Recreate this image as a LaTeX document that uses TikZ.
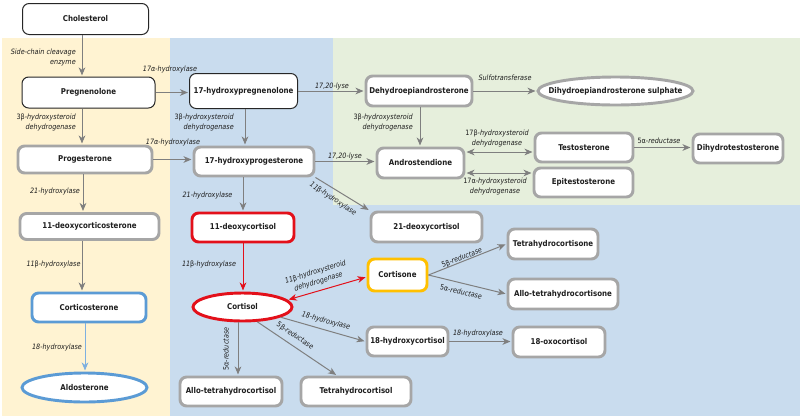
\documentclass[tikz,border=0pt]{standalone}
\usepackage{fontspec}
\setmainfont{DejaVu Sans}[FakeStretch=0.88]
\usetikzlibrary{arrows.meta,shapes.geometric,calc}
\definecolor{bgY}{HTML}{FFF3D2}
\definecolor{bgB}{HTML}{C9DCEE}
\definecolor{bgG}{HTML}{E6EFDC}
\definecolor{nodegray}{HTML}{A6A6A6}
\definecolor{linegray}{HTML}{7F7F7F}
\definecolor{redc}{HTML}{E3101A}
\definecolor{orc}{HTML}{FFC000}
\definecolor{bluec}{HTML}{5B9BD5}
\definecolor{bluel}{HTML}{7EB0E0}
\definecolor{txt}{HTML}{1E1E1E}
\newcommand{\gr}[1]{{\upshape #1}}
\begin{document}
\begin{tikzpicture}[x=0.75pt,y=-0.75pt,
  sz/.style 2 args={minimum width=#1*0.75pt, minimum height=#2*0.75pt},
  base/.style={fill=white, text=txt, font=\fontsize{6}{7}\selectfont\bfseries, inner sep=0pt},
  thinbox/.style={base, rectangle, rounded corners=5pt, draw=black!85, line width=0.75pt},
  graybox/.style={base, rectangle, rounded corners=5pt, draw=nodegray, line width=2.2pt},
  redbox/.style={graybox, draw=redc},
  orbox/.style={graybox, draw=orc},
  bluebox/.style={graybox, draw=bluec},
  ell/.style={base, ellipse, line width=2.2pt},
  conn/.style={draw=linegray, line width=0.75pt, shorten >=0.8pt, -{Stealth[length=6pt,width=5pt,inset=1.8pt]}},
  dconn/.style={draw=linegray, line width=0.75pt, shorten >=0.8pt, shorten <=0.8pt, {Stealth[length=6pt,width=5pt,inset=1.8pt]}-{Stealth[length=6pt,width=5pt,inset=1.8pt]}},
  lab/.style={font=\fontsize{5.5}{7.5}\selectfont\itshape, text=txt, inner sep=0pt, align=center},
]
\useasboundingbox (0,0) rectangle (800,419);
\fill[white] (0,0) rectangle (800,419);
\fill[bgY] (2,38) rectangle (170,416);
\fill[bgB] (170,38) rectangle (800,416);
\fill[bgG] (333,38) rectangle (800,205);

% nodes
\node[thinbox, sz={126}{31}] (chol) at (85.5,19) {Cholesterol};
\node[thinbox, sz={133}{31}] (preg) at (88.5,92.5) {Pregnenolone};
\node[thinbox, sz={108}{35}] (ohpreg) at (243.5,91) {17-hydroxypregnenolone};
\node[graybox, sz={106}{30}] (dhea) at (419,91) {Dehydroepiandrosterone};
\node[ell, draw=nodegray, sz={155}{28}] (dheas) at (615.5,91) {\makebox[0pt]{Dihydroepiandrosterone sulphate}};
\node[graybox, sz={134}{27}] (prog) at (85,159.5) {Progesterone};
\node[graybox, sz={120}{29}] (ohprog) at (254,161.5) {17-hydroxyprogesterone};
\node[graybox, sz={87}{30}] (andro) at (420.5,163) {Androstendione};
\node[graybox, sz={98}{29}] (testo) at (584,147.5) {Testosterone};
\node[graybox, sz={99}{29}] (epi) at (583.5,182.5) {Epitestosterone};
\node[graybox, sz={90}{29}] (dht) at (738,148.5) {Dihydrotestosterone};
\node[graybox, sz={139}{26}] (doc) at (89.5,226.5) {11-deoxycorticosterone};
\node[redbox, sz={102}{29}] (dcl) at (243,227.5) {11-deoxycortisol};
\node[graybox, sz={111}{30}] (d21) at (426.5,227) {21-deoxycortisol};
\node[graybox, sz={90}{30}] (thcn) at (553,244) {Tetrahydrocortisone};
\node[orbox, sz={59}{32}] (cortisone) at (397.5,275) {Cortisone};
\node[graybox, sz={110}{30}] (athcn) at (563,294) {Allo-tetrahydrocortisone};
\node[ell, draw=redc, sz={99}{28}] (cortisol) at (242.5,307) {\makebox[0pt]{Cortisol}};
\node[graybox, sz={81}{29}] (hc18) at (407.5,341.5) {18-hydroxycortisol};
\node[graybox, sz={92}{30}] (oxo) at (559,342) {18-oxocortisol};
\node[graybox, sz={102}{29}] (athcl) at (231,391.5) {Allo-tetrahydrocortisol};
\node[graybox, sz={110}{29}] (thcl) at (356,391.5) {Tetrahydrocortisol};
\node[bluebox, sz={114}{29}] (cortico) at (89,307.5) {Corticosterone};
\node[ell, draw=bluec, sz={125}{29}] (aldo) at (84.5,387.5) {\makebox[0pt]{Aldosterone}};

% connectors
\draw[conn] (chol.south -| 82,0) -- (preg.north -| 82,0);
\draw[conn] (preg.east) -- (preg.east -| ohpreg.west);
\draw[conn] (preg.south -| 82,0) -- (prog.north -| 82,0);
\draw[conn] (ohpreg.south -| 245,0) -- (ohprog.north -| 245,0);
\draw[conn] (ohpreg.east) -- (ohpreg.east -| dhea.west);
\draw[conn] (dhea.east) -- (dheas.west);
\draw[conn] (dhea.south -| 420,0) -- (andro.north -| 420,0);
\draw[conn] (prog.east) -- (prog.east -| ohprog.west);
\draw[conn] (ohprog.east) -- (ohprog.east -| andro.west);
\draw[dconn] (andro.east |- 0,152) -- (testo.west |- 0,152);
\draw[dconn] (andro.east |- 0,173) -- (epi.west |- 0,173);
\draw[conn] (testo.east) -- (testo.east -| dht.west);
\draw[conn] (prog.south -| 83,0) -- (doc.north -| 83,0);
\draw[conn] (ohprog.south -| 243,0) -- (dcl.north -| 243,0);
\draw[conn] (ohprog.south east) -- (d21.north west);
\draw[conn] (doc.south -| 82,0) -- (cortico.north -| 82,0);
\draw[conn, draw=bluel] (cortico.south -| 85,0) -- (aldo.north -| 85,0);
\draw[conn, draw=redc] (dcl.south -| 243,0) -- (cortisol.north -| 243,0);
\draw[dconn, draw=redc] (cortisol.9) -- (cortisone.west |- 0,277);
\draw[conn] (cortisone.east) -- (thcn.west);
\draw[conn] (cortisone.east) -- (athcn.west);
\draw[conn] (cortisol.-15) -- (hc18.west);
\draw[conn] (hc18.east) -- (hc18.east -| oxo.west);
\draw[conn] (cortisol.south -| 238,0) -- (athcl.north -| 238,0);
\draw[conn] (cortisol.-45) -- ([xshift=-14.25pt]thcl.north);

% labels
\node[lab, anchor=east, align=right] (l1) at (76,57) {Side-chain cleavage\\enzyme};
\node[lab] (l2) at (170,69) {17α-hydroxylase};
\node[lab, anchor=east, align=right] (l3) at (76,122.5) {\gr{3β}-hydroxysteroid\\dehydrogenase};
\node[lab, anchor=east, align=right] (l4) at (234,122) {\gr{3β}-hydroxysteroid\\dehydrogenase};
\node[lab] (l5) at (332,86) {17,20-lyse};
\node[lab] (l6) at (505,78) {Sulfotransferase};
\node[lab, anchor=east, align=right] (l7) at (413,122) {\gr{3β}-hydroxysteroid\\dehydrogenase};
\node[lab] (l8) at (173,142) {17α-hydroxylase};
\node[lab] (l9) at (345,156) {17,20-lyse};
\node[lab] (l10) at (497,138) {\gr{17β}-hydroxysteroid\\dehydrogenase};
\node[lab] (l11) at (495,186.5) {\gr{17α}-hydroxysteroid\\dehydrogenase};
\node[lab] (l12) at (659,141) {\gr{5α}-reductase};
\node[lab] (l13) at (55,191) {21-hydroxylase};
\node[lab] (l14) at (207.5,195) {21-hydroxylase};
\node[lab, rotate=-33.5] (l15) at (333,199) {11\gr{β}-hydroxylase};
\node[lab] (l16) at (53.5,264) {11\gr{β}-hydroxylase};
\node[lab] (l17) at (57,347) {18-hydroxylase};
\node[lab] (l18) at (209,264) {11\gr{β}-hydroxylase};
\node[lab, rotate=17] (l19) at (317,277) {11\gr{β}-hydroxysteroid\\dehydrogenase};
\node[lab, rotate=22] (l20) at (462,258) {\gr{5β}-reductase};
\node[lab, rotate=-13] (l21) at (461,292) {\gr{5α}-reductase};
\node[lab, rotate=-15] (l22) at (326,321) {18-hydroxylase};
\node[lab] (l23) at (478,333) {18-hydroxylase};
\node[lab, rotate=90] (l24) at (226,349) {\gr{5α}-reductase};
\node[lab, rotate=-34] (l25) at (295,336) {\gr{5β}-reductase};
\end{tikzpicture}
\end{document}
